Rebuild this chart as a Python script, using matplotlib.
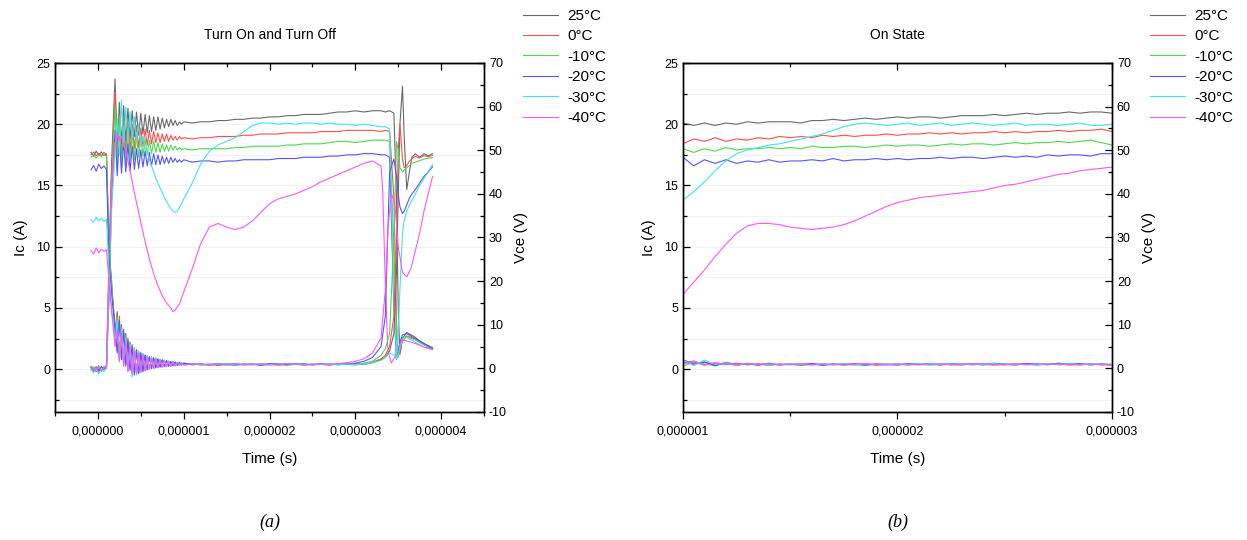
import matplotlib
matplotlib.use("Agg")
import matplotlib.pyplot as plt
from matplotlib.ticker import MultipleLocator, FuncFormatter

plt.rcParams['font.family'] = ['Liberation Sans', 'DejaVu Sans']
plt.rcParams['axes.unicode_minus'] = False

temps = ['25°C', '0°C', '-10°C', '-20°C', '-30°C', '-40°C']
colors = ['#6a6a6a', '#ff4f4f', '#4cd94c', '#5555ff', '#3ee6e6', '#ff55ff']

# ---- panel (a): turn on / turn off, time in microseconds ----
t_a = [-0.08, -0.05, -0.02, 0.01, 0.04, 0.07, 0.10, 0.13, 0.16,
       0.200, 0.225, 0.250, 0.275, 0.300, 0.325, 0.350, 0.375, 0.400, 0.425,
       0.450, 0.475, 0.500, 0.525, 0.550, 0.575, 0.600, 0.625, 0.650, 0.675,
       0.700, 0.725, 0.750, 0.775, 0.800, 0.825, 0.850, 0.875, 0.900, 0.925,
       0.950, 0.975, 1.000,
       1.1, 1.2, 1.3, 1.4, 1.5, 1.6, 1.7, 1.8, 1.9, 2.0,
       2.1, 2.2, 2.3, 2.4, 2.5, 2.6, 2.7, 2.8, 2.9, 3.0,
       3.1, 3.2, 3.3]

ic_tail_t = [3.35, 3.40, 3.45, 3.48, 3.50, 3.52, 3.55, 3.60, 3.65, 3.70, 3.75, 3.80, 3.85, 3.90]
ic_tail_t_m40 = [3.32, 3.35, 3.38, 3.42, 3.46, 3.50, 3.55, 3.60, 3.70, 3.80, 3.90]
vce_tail_t = [3.35, 3.40, 3.45, 3.48, 3.50, 3.52, 3.55, 3.57, 3.60, 3.63, 3.66, 3.70, 3.75, 3.80, 3.85, 3.90]
vce_tail_t_m40 = [3.35, 3.38, 3.42, 3.46, 3.50, 3.55, 3.60, 3.65, 3.70, 3.75, 3.80, 3.85, 3.90]

ic_a_25 = [0.1, -0.2, 0.2, -0.1, 0.2, 0.0, 0.3, 9.0, 17.0,
           23.7, 18.0, 21.8, 18.4, 21.5, 18.6, 21.3, 18.8, 21.1, 19.0,
           21.0, 19.1, 20.9, 19.2, 20.8, 19.3, 20.7, 19.4, 20.6, 19.5,
           20.6, 19.6, 20.5, 19.7, 20.4, 19.8, 20.4, 19.9, 20.3, 19.9,
           20.2, 20.0, 20.2,
           20.1, 20.2, 20.2, 20.3, 20.3, 20.4, 20.4, 20.5, 20.5, 20.6,
           20.6, 20.7, 20.7, 20.8, 20.8, 20.8, 20.9, 21.0, 21.0, 21.1,
           21.0, 21.1, 21.1]
ic_a_0 = [0.2, 0.0, -0.2, 0.1, -0.1, 0.2, 0.1, 8.0, 16.0,
          22.6, 17.0, 20.8, 17.3, 20.5, 17.6, 20.2, 17.8, 20.0, 18.0,
          19.9, 18.1, 19.7, 18.2, 19.6, 18.3, 19.5, 18.4, 19.4, 18.5,
          19.3, 18.5, 19.2, 18.6, 19.2, 18.6, 19.1, 18.7, 19.0, 18.7,
          19.0, 18.8, 18.9,
          18.8, 18.9, 18.9, 19.0, 19.0, 19.0, 19.1, 19.1, 19.2, 19.2,
          19.2, 19.3, 19.3, 19.3, 19.3, 19.4, 19.4, 19.4, 19.5, 19.5,
          19.5, 19.5, 19.4]
ic_a_m10 = [-0.1, 0.2, 0.0, 0.3, -0.2, 0.1, 0.2, 7.0, 15.0,
            21.5, 16.4, 20.6, 16.6, 19.8, 16.8, 19.5, 17.0, 19.3, 17.1,
            19.1, 17.3, 18.9, 17.4, 18.8, 17.5, 18.7, 17.6, 18.6, 17.7,
            18.5, 17.7, 18.4, 17.8, 18.3, 17.8, 18.3, 17.9, 18.2, 17.9,
            18.1, 17.9, 18.0,
            17.9, 18.0, 18.0, 18.0, 18.0, 18.1, 18.1, 18.2, 18.2, 18.2,
            18.2, 18.3, 18.3, 18.4, 18.4, 18.4, 18.5, 18.6, 18.6, 18.5,
            18.6, 18.7, 18.7]
ic_a_m20 = [0.2, -0.1, 0.1, -0.2, 0.2, 0.0, 0.1, 6.0, 14.0,
            19.5, 15.8, 19.0, 16.0, 18.6, 16.1, 18.4, 16.2, 18.2, 16.3,
            18.0, 16.4, 17.9, 16.5, 17.8, 16.6, 17.7, 16.6, 17.6, 16.7,
            17.5, 16.7, 17.4, 16.8, 17.3, 16.8, 17.3, 16.9, 17.2, 16.9,
            17.1, 16.9, 17.1,
            16.9, 17.0, 17.0, 16.9, 17.0, 17.0, 17.1, 17.1, 17.1, 17.1,
            17.2, 17.2, 17.2, 17.3, 17.3, 17.3, 17.4, 17.4, 17.5, 17.5,
            17.6, 17.6, 17.5]
ic_a_m30 = [0.0, -0.3, 0.1, -0.4, 0.0, -0.2, 0.1, 6.0, 13.0,
            18.0, 20.5, 17.5, 22.0, 18.2, 21.4, 18.5, 21.0, 18.8, 20.6,
            18.6, 20.0, 18.2, 19.0, 17.9, 17.8, 17.1, 16.6, 16.1, 15.6,
            15.2, 14.8, 14.4, 14.0, 13.7, 13.4, 13.1, 12.9, 12.8, 12.9,
            13.2, 13.5, 13.9,
            15.2, 16.8, 17.8, 18.3, 18.6, 18.9, 19.4, 19.9, 20.1, 20.1,
            20.0, 20.1, 20.0, 20.1, 20.1, 20.0, 20.1, 20.0, 20.0, 19.9,
            20.0, 19.9, 19.8]
ic_a_m40 = [0.2, -0.1, 0.0, 0.2, -0.1, 0.1, 0.3, 8.0, 15.0,
            18.5, 19.2, 18.6, 19.0, 18.3, 17.8, 17.0, 16.2, 15.3, 14.4,
            13.6, 12.8, 12.0, 11.2, 10.4, 9.7, 9.0, 8.4, 7.8, 7.3,
            6.8, 6.4, 6.0, 5.7, 5.4, 5.2, 5.0, 4.7, 4.8, 5.1,
            5.3, 5.8, 6.3,
            8.2, 10.3, 11.6, 11.9, 11.6, 11.4, 11.6, 12.1, 12.8, 13.5,
            13.9, 14.1, 14.3, 14.6, 14.9, 15.3, 15.6, 15.9, 16.2, 16.5,
            16.8, 17.0, 16.6]

ic_tail_25 = [21.0, 21.1, 20.9, 14.0, 5.0, 1.2, 2.5, 3.0, 2.8, 2.6, 2.3, 2.1, 1.9, 1.7]
ic_tail_0 = [19.5, 19.4, 14.0, 4.0, 1.0, 1.5, 2.3, 2.7, 2.6, 2.4, 2.2, 2.0, 1.8, 1.7]
ic_tail_m10 = [18.7, 18.6, 10.0, 2.5, 1.0, 1.8, 2.6, 2.7, 2.5, 2.4, 2.2, 2.0, 1.9, 1.8]
ic_tail_m20 = [17.5, 17.3, 5.0, 0.8, 1.5, 2.2, 2.8, 2.9, 2.7, 2.5, 2.3, 2.1, 1.9, 1.7]
ic_tail_m30 = [19.8, 19.6, 6.0, 1.0, 1.2, 1.8, 2.4, 2.6, 2.4, 2.2, 2.0, 1.8, 1.7, 1.6]
ic_tail_m40 = [14.5, 7.0, 1.5, 0.5, 1.0, 1.8, 2.4, 2.3, 2.1, 1.8, 1.6]

vce_a_25 = [49.5, 48.6, 49.8, 48.9, 49.6, 48.8, 49.2, 27.0, 20.0,
            8.0, 13.0, 3.0, 10.0, 1.5, 8.0, 0.5, 6.0, -1.0, 4.5,
            -1.2, 3.8, -0.8, 3.2, -0.5, 2.8, -0.2, 2.5, 0.0, 2.3,
            0.2, 2.0, 0.3, 1.8, 0.4, 1.6, 0.5, 1.5, 0.6, 1.3,
            0.7, 1.2, 0.8,
            1.1, 0.8, 1.0, 0.7, 0.9, 1.1, 0.8, 1.0, 0.7, 0.9,
            1.0, 0.8, 1.1, 0.8, 0.9, 1.0, 0.8, 1.0, 0.9, 1.1,
            0.9, 1.3, 2.0]
vce_a_0 = [49.0, 49.6, 48.7, 49.3, 48.8, 49.5, 49.0, 26.0, 18.0,
           10.0, 4.0, 12.0, 2.5, 9.0, 1.0, 7.0, 0.0, 5.5, -0.8,
           4.2, -1.0, 3.5, -0.5, 3.0, -0.2, 2.6, 0.0, 2.4, 0.2,
           2.1, 0.3, 1.9, 0.4, 1.7, 0.5, 1.5, 0.6, 1.4, 0.7,
           1.3, 0.8, 1.2,
           0.8, 1.0, 0.7, 0.9, 1.1, 0.8, 0.9, 1.0, 0.8, 1.1,
           0.7, 0.9, 1.0, 0.8, 1.0, 0.9, 0.8, 1.1, 0.9, 0.8,
           1.0, 1.4, 2.2]
vce_a_m10 = [48.4, 49.0, 48.2, 48.9, 48.5, 49.1, 48.6, 27.0, 19.0,
             7.0, 12.0, 2.0, 9.5, 1.0, 7.5, 0.0, 6.0, -1.3, 4.8,
             -1.0, 4.0, -0.6, 3.4, -0.3, 3.0, 0.0, 2.7, 0.2, 2.4,
             0.3, 2.1, 0.4, 1.9, 0.5, 1.7, 0.6, 1.5, 0.7, 1.4,
             0.8, 1.3, 0.9,
             1.0, 0.8, 0.9, 1.1, 0.7, 1.0, 0.9, 0.8, 1.1, 0.9,
             0.8, 1.0, 0.9, 1.1, 0.8, 0.9, 1.0, 0.8, 1.0, 0.9,
             1.2, 1.6, 3.0]
vce_a_m20 = [45.5, 46.5, 45.2, 46.8, 45.8, 46.4, 45.6, 25.0, 17.0,
             9.0, 3.5, 11.0, 2.0, 8.5, 0.5, 6.5, -0.5, 5.0, -1.5,
             4.3, -1.2, 3.6, -0.8, 3.1, -0.4, 2.7, -0.1, 2.4, 0.1,
             2.2, 0.3, 2.0, 0.4, 1.8, 0.5, 1.6, 0.6, 1.5, 0.7,
             1.4, 0.8, 1.2,
             0.9, 1.0, 0.8, 1.1, 0.9, 0.7, 1.0, 0.9, 0.8, 1.0,
             1.1, 0.8, 0.9, 1.0, 0.8, 1.1, 0.9, 0.9, 1.0, 1.2,
             1.6, 2.5, 5.0]
vce_a_m30 = [34.0, 33.5, 34.6, 33.8, 34.4, 33.7, 34.2, 22.0, 14.0,
             6.0, 11.0, 2.0, 9.0, 0.5, 7.0, -0.5, 5.5, -2.0, 4.5,
             -1.5, 3.8, -1.0, 3.2, -0.6, 2.8, -0.3, 2.5, 0.0, 2.2,
             0.2, 2.0, 0.3, 1.8, 0.4, 1.6, 0.5, 1.5, 0.6, 1.3,
             0.7, 1.2, 0.8,
             1.0, 0.9, 0.8, 1.0, 1.1, 0.8, 0.9, 1.0, 0.9, 0.8,
             1.0, 1.1, 0.9, 0.8, 1.0, 0.9, 1.1, 0.8, 1.0, 0.9,
             1.0, 1.3, 1.8]
vce_a_m40 = [27.0, 26.2, 27.6, 26.5, 27.3, 26.8, 27.2, 20.0, 13.0,
             5.0, 9.0, 1.5, 8.0, 0.5, 6.0, -0.8, 5.0, -1.5, 4.0,
             -1.2, 3.5, -0.8, 3.0, -0.5, 2.6, -0.2, 2.3, 0.0, 2.1,
             0.2, 1.9, 0.3, 1.7, 0.4, 1.6, 0.5, 1.5, 0.6, 1.3,
             0.7, 1.2, 0.8,
             0.9, 1.0, 0.8, 1.0, 0.9, 1.1, 0.8, 0.9, 1.0, 0.8,
             0.9, 1.1, 1.0, 0.8, 0.9, 1.0, 0.9, 1.1, 1.3, 1.6,
             2.2, 3.5, 7.0]

vce_tail_25 = [2.6, 4.0, 8.0, 22.0, 39.0, 56.0, 64.7, 53.0, 41.0, 45.0, 48.4, 49.2, 48.4, 49.2, 48.7, 49.2]
vce_tail_0 = [3.0, 5.0, 12.0, 30.0, 50.0, 56.0, 48.0, 46.0, 46.5, 47.5, 48.0, 48.6, 48.2, 48.8, 48.5, 48.8]
vce_tail_m10 = [4.5, 8.0, 30.0, 52.0, 50.0, 46.0, 45.0, 45.5, 46.0, 46.5, 47.0, 47.3, 47.6, 48.0, 48.2, 48.3]
vce_tail_m20 = [12.0, 45.0, 48.0, 44.0, 40.0, 37.0, 35.5, 36.0, 37.5, 39.0, 40.0, 41.0, 42.5, 44.0, 45.0, 46.2]
vce_tail_m30 = [2.5, 3.5, 3.0, 2.2, 8.0, 18.0, 31.0, 34.0, 36.0, 37.5, 38.5, 40.0, 42.0, 43.5, 45.0, 46.8]
vce_tail_m40 = [18.0, 32.0, 40.0, 38.0, 28.0, 22.0, 21.0, 23.0, 27.0, 31.0, 36.0, 40.0, 44.0]

# ---- panel (b): on state, time in microseconds ----
t_b = [1.00, 1.05, 1.10, 1.15, 1.20, 1.25, 1.30, 1.35, 1.40, 1.45,
       1.50, 1.55, 1.60, 1.65, 1.70, 1.75, 1.80, 1.85, 1.90, 1.95,
       2.00, 2.05, 2.10, 2.15, 2.20, 2.25, 2.30, 2.35, 2.40, 2.45,
       2.50, 2.55, 2.60, 2.65, 2.70, 2.75, 2.80, 2.85, 2.90, 2.95,
       3.00]

ic_b_25 = [20.1, 19.9, 20.1, 19.9, 20.1, 20.0, 20.2, 20.1, 20.2, 20.2,
           20.2, 20.1, 20.3, 20.3, 20.4, 20.3, 20.4, 20.5, 20.4, 20.5,
           20.6, 20.5, 20.6, 20.6, 20.5, 20.6, 20.7, 20.7, 20.7, 20.8,
           20.7, 20.8, 20.9, 20.8, 20.9, 20.9, 21.0, 20.9, 21.0, 21.0,
           20.9]
ic_b_0 = [18.4, 18.8, 18.6, 18.9, 18.6, 18.8, 18.7, 18.9, 18.8, 19.0,
          18.9, 19.0, 18.9, 19.1, 19.0, 19.1, 19.0, 19.1, 19.1, 19.2,
          19.1, 19.2, 19.2, 19.3, 19.2, 19.3, 19.2, 19.3, 19.3, 19.4,
          19.3, 19.4, 19.3, 19.4, 19.4, 19.5, 19.4, 19.5, 19.5, 19.6,
          19.4]
ic_b_m10 = [18.0, 17.7, 18.0, 17.8, 18.1, 17.9, 18.0, 18.0, 18.1, 18.0,
            18.1, 18.0, 18.2, 18.1, 18.1, 18.2, 18.2, 18.1, 18.2, 18.3,
            18.2, 18.3, 18.3, 18.2, 18.3, 18.4, 18.3, 18.4, 18.4, 18.3,
            18.4, 18.5, 18.4, 18.5, 18.5, 18.6, 18.5, 18.6, 18.7, 18.5,
            18.3]
ic_b_m20 = [17.3, 16.6, 17.1, 16.8, 17.1, 16.8, 17.0, 16.9, 17.1, 16.9,
            17.0, 17.0, 17.1, 17.0, 17.2, 17.0, 17.1, 17.1, 17.2, 17.1,
            17.2, 17.1, 17.2, 17.2, 17.3, 17.2, 17.3, 17.3, 17.2, 17.3,
            17.4, 17.3, 17.4, 17.3, 17.5, 17.4, 17.5, 17.5, 17.4, 17.6,
            17.6]
ic_b_m30 = [13.8, 14.5, 15.3, 16.2, 17.0, 17.6, 17.9, 18.1, 18.3, 18.4,
            18.6, 18.8, 19.0, 19.2, 19.5, 19.8, 20.0, 20.1, 20.0, 19.9,
            20.0, 20.1, 19.9, 20.0, 20.1, 19.9, 20.0, 20.1, 20.0, 19.9,
            20.0, 20.1, 19.9, 20.0, 20.0, 19.9, 20.0, 20.1, 19.9, 19.9,
            20.0]
ic_b_m40 = [6.1, 7.1, 8.1, 9.2, 10.2, 11.1, 11.7, 11.9, 11.9, 11.8,
            11.6, 11.5, 11.4, 11.5, 11.6, 11.8, 12.1, 12.5, 12.9, 13.3,
            13.6, 13.8, 14.0, 14.1, 14.2, 14.3, 14.4, 14.5, 14.6, 14.8,
            15.0, 15.1, 15.3, 15.5, 15.7, 15.9, 16.0, 16.2, 16.3, 16.4,
            16.5]

vce_b_25 = [1.6, 0.9, 1.4, 0.8, 1.2, 0.7, 1.1, 0.9, 1.0, 0.8,
            1.0, 0.7, 0.9, 1.0, 0.8, 1.0, 0.9, 0.7, 1.0, 0.9,
            0.8, 1.0, 0.9, 0.8, 1.0, 0.9, 0.8, 1.1, 0.9, 0.8,
            1.0, 0.9, 1.1, 0.8, 1.0, 0.9, 1.1, 0.8, 1.0, 0.9,
            0.8]
vce_b_0 = [1.2, 1.7, 0.8, 1.3, 0.9, 1.2, 0.8, 1.1, 0.7, 1.0,
           0.9, 0.8, 1.1, 0.8, 0.9, 1.0, 0.8, 1.0, 0.7, 0.9,
           1.0, 0.8, 1.1, 0.9, 0.8, 0.9, 1.0, 0.8, 1.0, 0.9,
           0.8, 1.1, 0.9, 0.8, 1.0, 1.1, 0.8, 0.9, 1.0, 0.8,
           0.9]
vce_b_m10 = [0.5, 1.4, 1.0, 0.6, 1.3, 0.8, 1.0, 0.9, 0.7, 1.0,
             0.8, 1.0, 0.9, 0.8, 1.0, 0.7, 0.9, 1.1, 0.8, 1.0,
             0.9, 0.8, 1.0, 0.9, 1.1, 0.8, 0.9, 1.0, 0.8, 1.0,
             0.9, 0.8, 1.0, 0.9, 1.1, 0.8, 0.9, 1.0, 0.8, 1.0,
             0.9]
vce_b_m20 = [2.0, 1.0, 1.5, 0.6, 1.4, 0.9, 1.1, 0.7, 1.2, 0.8,
             1.0, 0.9, 1.1, 0.7, 1.0, 0.9, 1.1, 0.8, 1.0, 0.9,
             0.8, 1.1, 0.9, 1.0, 0.8, 1.1, 0.9, 1.0, 0.8, 1.2,
             0.9, 0.8, 1.1, 1.0, 0.8, 1.2, 0.9, 1.1, 0.8, 1.0,
             0.8]
vce_b_m30 = [1.8, 0.7, 1.9, 0.9, 1.3, 0.8, 1.2, 0.9, 1.0, 0.8,
             1.1, 0.9, 0.8, 1.0, 0.9, 1.1, 0.8, 1.0, 0.9, 0.8,
             1.0, 0.9, 1.1, 0.8, 0.9, 1.0, 0.8, 1.0, 0.9, 1.1,
             0.8, 1.0, 0.9, 0.8, 1.0, 0.9, 1.1, 0.8, 1.0, 0.9,
             1.0]
vce_b_m40 = [1.0, 1.5, 0.7, 1.2, 1.0, 0.8, 1.1, 0.9, 1.0, 0.8,
             0.9, 1.1, 0.8, 1.0, 0.9, 0.8, 1.0, 1.1, 0.9, 0.8,
             1.0, 0.9, 0.8, 1.1, 1.0, 0.8, 0.9, 1.0, 1.1, 0.8,
             0.9, 1.0, 0.8, 1.1, 0.9, 1.0, 0.8, 0.9, 1.0, 0.9,
             0.8]


def us(t):
    return [v * 1e-6 for v in t]


def time_fmt(x, pos):
    if abs(x) < 1e-12:
        x = 0.0
    return f"{x:.6f}".replace('.', ',')


W, H = 1247, 540
fig = plt.figure(figsize=(W / 100, H / 100), dpi=100)


def make_panel(left_px, title, xlim, caption):
    ax = fig.add_axes([left_px / W, 128 / H, 429 / W, 349 / H])
    ax2 = ax.twinx()
    ax.set_xlim(*xlim)
    ax.set_ylim(-3.5, 25)
    ax2.set_ylim(-10, 70)
    ax.xaxis.set_major_locator(MultipleLocator(1e-6))
    ax.xaxis.set_minor_locator(MultipleLocator(0.5e-6))
    ax.xaxis.set_major_formatter(FuncFormatter(time_fmt))
    ax.yaxis.set_major_locator(MultipleLocator(5))
    ax.yaxis.set_minor_locator(MultipleLocator(2.5))
    ax2.yaxis.set_major_locator(MultipleLocator(10))
    ax2.yaxis.set_minor_locator(MultipleLocator(5))
    ax.tick_params(axis='x', which='both', direction='out', labelsize=9, pad=5)
    ax.tick_params(axis='y', which='both', direction='in', labelsize=9, right=False)
    ax2.tick_params(axis='y', which='both', direction='in', labelsize=9)
    for a in (ax, ax2):
        a.tick_params(which='major', length=5, width=0.9)
        a.tick_params(which='minor', length=3, width=0.9)
        for s in a.spines.values():
            s.set_linewidth(1.0)
    top = ax.secondary_xaxis('top')
    top.xaxis.set_major_locator(MultipleLocator(1e-6))
    top.xaxis.set_minor_locator(MultipleLocator(0.5e-6))
    top.tick_params(which='both', direction='in', labeltop=False)
    top.tick_params(which='major', length=5, width=0.9)
    top.tick_params(which='minor', length=3, width=0.9)
    ax.grid(True, which='both', axis='y', color='#f3f3f3', lw=0.8)
    ax.set_axisbelow(True)
    ax.set_xlabel('Time (s)', fontsize=11, labelpad=10)
    ax.set_ylabel('Ic (A)', fontsize=11, labelpad=6)
    ax2.set_ylabel('Vce (V)', fontsize=11, labelpad=5)
    cx = (left_px + 429 / 2) / W
    fig.text(cx, 1 - 35 / H, title, ha='center', va='center', fontsize=10)
    fig.text(cx, 1 - 522 / H, caption, ha='center', va='center', fontsize=13,
             family='Liberation Serif', style='italic')
    return ax, ax2


ax_a, ax2_a = make_panel(55, 'Turn On and Turn Off', (-0.5e-6, 4.5e-6), '(a)')
ax_b, ax2_b = make_panel(683, 'On State', (1e-6, 3e-6), '(b)')

ic_a = [ic_a_25, ic_a_0, ic_a_m10, ic_a_m20, ic_a_m30, ic_a_m40]
ic_tail = [ic_tail_25, ic_tail_0, ic_tail_m10, ic_tail_m20, ic_tail_m30, ic_tail_m40]
vce_a = [vce_a_25, vce_a_0, vce_a_m10, vce_a_m20, vce_a_m30, vce_a_m40]
vce_tail = [vce_tail_25, vce_tail_0, vce_tail_m10, vce_tail_m20, vce_tail_m30, vce_tail_m40]
ic_b = [ic_b_25, ic_b_0, ic_b_m10, ic_b_m20, ic_b_m30, ic_b_m40]
vce_b = [vce_b_25, vce_b_0, vce_b_m10, vce_b_m20, vce_b_m30, vce_b_m40]

handles_a, handles_b = [], []
for i, (lab, col) in enumerate(zip(temps, colors)):
    it = ic_tail_t_m40 if i == 5 else ic_tail_t
    vt = vce_tail_t_m40 if i == 5 else vce_tail_t
    h, = ax_a.plot(us(t_a + it), ic_a[i] + ic_tail[i], color=col, lw=0.8, label=lab)
    ax2_a.plot(us(t_a + vt), vce_a[i] + vce_tail[i], color=col, lw=0.8)
    hb, = ax_b.plot(us(t_b), ic_b[i], color=col, lw=0.8, label=lab)
    ax2_b.plot(us(t_b), vce_b[i], color=col, lw=0.8)
    handles_a.append(h)
    handles_b.append(hb)

for ax, hs, lx in ((ax_a, handles_a, 523), (ax_b, handles_b, 1150)):
    ax.legend(handles=hs, labels=temps, loc='upper left',
              bbox_to_anchor=(lx / W, 1 - 9 / H), bbox_transform=fig.transFigure,
              frameon=False, fontsize=11, handlelength=2.3, handletextpad=0.6,
              labelspacing=0.42, borderpad=0, borderaxespad=0)

fig.savefig('out.png', dpi=100)
